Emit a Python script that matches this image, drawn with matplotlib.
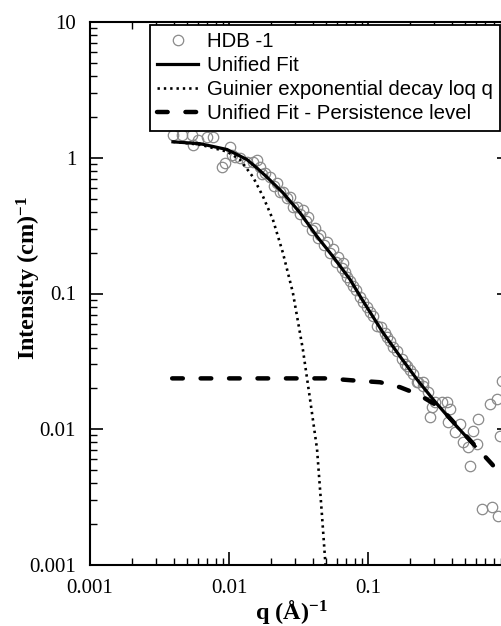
import matplotlib
matplotlib.use('Agg')
import matplotlib.pyplot as plt
from matplotlib.ticker import LogLocator, FuncFormatter, NullFormatter
import numpy as np

plt.rcParams['font.family'] = 'Liberation Serif'
plt.rcParams['mathtext.fontset'] = 'custom'
plt.rcParams['mathtext.rm'] = 'Liberation Serif'
plt.rcParams['mathtext.bf'] = 'Liberation Serif:bold'
plt.rcParams['mathtext.default'] = 'bf'

# measured points, HDB -1
q_data = [0.00396, 0.00459, 0.00542, 0.00551, 0.00598, 0.00695, 0.00767, 0.00891,
          0.00936, 0.0102, 0.0105, 0.0111, 0.0120, 0.0135, 0.0149, 0.0159, 0.0167,
          0.0173, 0.0182, 0.0197, 0.0211, 0.0221, 0.0233, 0.0245, 0.0261, 0.0275,
          0.0289, 0.0308, 0.0324, 0.0341, 0.0358, 0.0370, 0.0396, 0.0416, 0.0437,
          0.0452, 0.0483, 0.0507, 0.0533, 0.0560, 0.0589, 0.0609, 0.0650, 0.0665,
          0.0683, 0.0706, 0.0742, 0.0780, 0.0820, 0.0876, 0.0920, 0.0984, 0.103,
          0.109, 0.116, 0.124, 0.133, 0.137, 0.144, 0.151, 0.162, 0.176, 0.185,
          0.191, 0.201, 0.211, 0.225, 0.229, 0.247, 0.249, 0.270, 0.279, 0.289,
          0.303, 0.341, 0.370, 0.376, 0.389, 0.423, 0.459, 0.483, 0.524, 0.542,
          0.569, 0.609, 0.619, 0.661, 0.755, 0.780, 0.848, 0.862, 0.891, 0.920]
I_data = [1.48, 1.48, 1.48, 1.25, 1.36, 1.43, 1.43, 0.859,
          0.919, 1.21, 1.05, 1.02, 1.00, 0.935, 0.935, 0.967, 0.859,
          0.763, 0.776, 0.725, 0.622, 0.655, 0.562, 0.562, 0.508, 0.517,
          0.436, 0.436, 0.388, 0.415, 0.344, 0.368, 0.296, 0.306, 0.258,
          0.272, 0.229, 0.241, 0.200, 0.211, 0.172, 0.187, 0.155, 0.169,
          0.145, 0.133, 0.123, 0.113, 0.107, 0.0935, 0.0873, 0.0802, 0.0725,
          0.0678, 0.0572, 0.0562, 0.0516, 0.0475, 0.0444, 0.0401, 0.0375, 0.0327, 0.0300,
          0.0290, 0.0272, 0.0256, 0.0222, 0.0222, 0.0222, 0.0207, 0.0187, 0.0123, 0.0145,
          0.0158, 0.0158, 0.0158, 0.0113, 0.0140, 0.0095, 0.0109, 0.00802, 0.00737, 0.00534,
          0.00967, 0.00776, 0.0118, 0.00258, 0.0153, 0.00267, 0.0166, 0.00229, 0.00888, 0.0225]

# unified fit
q_fit = [0.00395, 0.00618, 0.00968, 0.01346, 0.01589, 0.01875, 0.0244, 0.0324, 0.0430,
         0.0560, 0.0742, 0.0906, 0.128, 0.170, 0.225, 0.294, 0.389, 0.589]
I_fit = [1.31, 1.27, 1.15, 0.97, 0.84, 0.72, 0.553, 0.394, 0.263,
         0.187, 0.127, 0.0904, 0.0516, 0.0344, 0.0233, 0.0166, 0.0119, 0.0075]

# guinier exponential decay
q_gui = [0.00395, 0.00618, 0.00968, 0.0120, 0.0149, 0.0176, 0.0207, 0.0244, 0.0288,
         0.0340, 0.0383, 0.0430, 0.0467, 0.0491, 0.0495]
I_gui = [1.31, 1.25, 1.11, 0.97, 0.72, 0.516, 0.35, 0.20, 0.1016,
         0.0387, 0.0166, 0.00713, 0.00229, 0.00111, 0.00098]

# unified fit - persistence level
q_pers = [0.0039, 0.0324, 0.0507, 0.078, 0.122, 0.170, 0.229, 0.330, 0.542, 0.780, 0.92, 1.0]
I_pers = [0.0237, 0.0237, 0.0237, 0.0229, 0.0222, 0.0204, 0.0181, 0.0145, 0.0083, 0.00553, 0.00451, 0.0041]

fig = plt.figure(figsize=(5.02, 6.26), dpi=100)
# right spine sits just past the picture edge
ax = fig.add_axes([90/502, 61/626, 420/502, 543/626])

ax.plot(q_data, I_data, 'o', mfc='none', mec='#8a8a8a', ms=7.5, mew=0.9,
        label='HDB -1', zorder=1)
ax.plot(q_fit, I_fit, '-', color='k', lw=2.3, label='Unified Fit', zorder=4)
ax.plot(q_gui, I_gui, color='k', lw=1.9, linestyle=(0, (0.9, 1.5)),
        label='Guinier exponential decay loq q', zorder=3)
ax.plot(q_pers, I_pers, color='k', lw=3.2, linestyle=(0, (2.4, 4.0)),
        dash_capstyle='round', label='Unified Fit - Persistence level', zorder=3)

ax.set_xscale('log')
ax.set_yscale('log')
ax.set_xlim(1e-3, 10 ** (420/139 - 3))
ax.set_ylim(1e-3, 10)

for axis in (ax.xaxis, ax.yaxis):
    axis.set_major_locator(LogLocator(base=10, numticks=10))
    axis.set_minor_locator(LogLocator(base=10, subs=np.arange(2, 10), numticks=50))
    axis.set_minor_formatter(NullFormatter())
ax.xaxis.set_major_formatter(FuncFormatter(lambda v, p: '' if v >= 1 else '%g' % v))
ax.yaxis.set_major_formatter(FuncFormatter(lambda v, p: '%g' % v))

ax.tick_params(which='both', direction='in', top=True, right=True, labelsize=15)
ax.tick_params(which='major', length=9.5, width=1.2, pad=10)
ax.tick_params(which='minor', length=5, width=1.0)
for s in ax.spines.values():
    s.set_linewidth(1.5)

ax.set_ylabel(r'Intensity (cm)$^{-1}$', fontsize=17.5, fontweight='bold')
ax.yaxis.set_label_coords(-0.112, 0.529)
ax.set_xlabel(r'q (Å)$^{-1}$', fontsize=17.5, fontweight='bold')
ax.xaxis.set_label_coords(0.48, -0.061)

leg = ax.legend(loc='upper left', bbox_to_anchor=(150/502, 1 - 25/626),
                bbox_transform=fig.transFigure, prop={'family': 'Liberation Sans', 'size': 14.7},
                fancybox=False, edgecolor='k', framealpha=1, borderpad=0.35,
                labelspacing=0.25, handlelength=2.0, handletextpad=0.45,
                borderaxespad=0, numpoints=1)
leg.get_frame().set_linewidth(1.3)

fig.savefig('out.png', dpi=100)
